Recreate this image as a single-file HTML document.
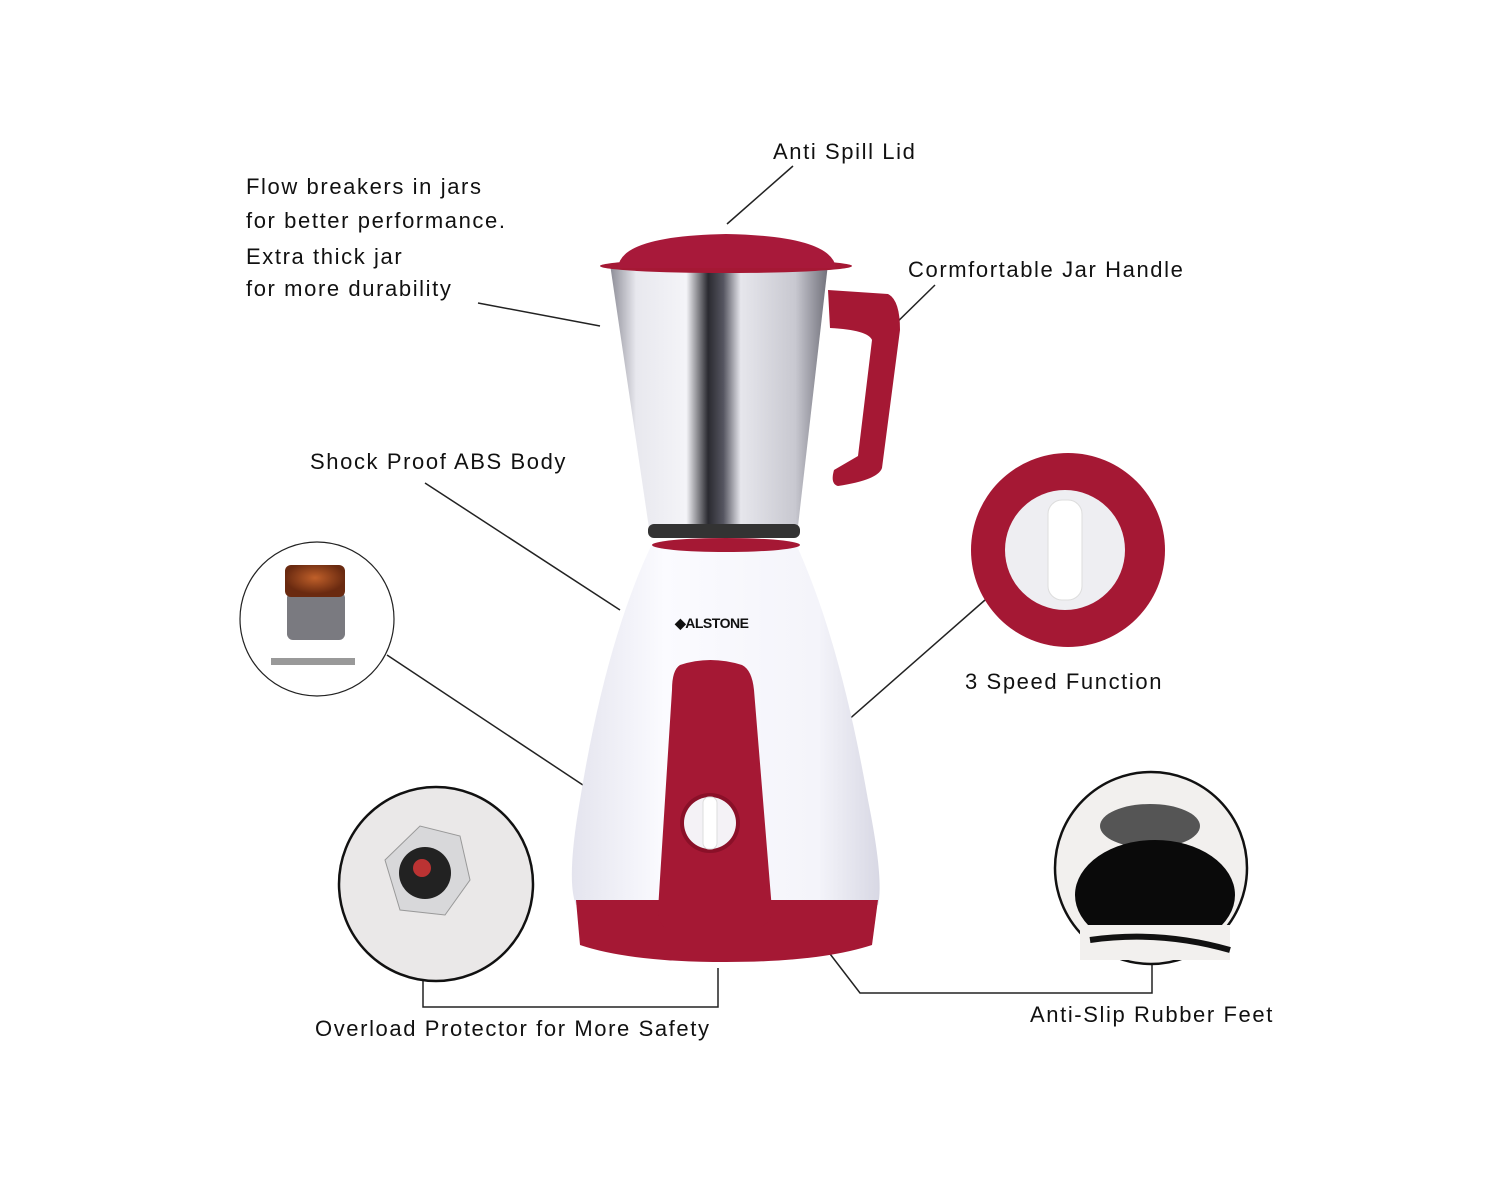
<!DOCTYPE html>
<html><head><meta charset="utf-8"><style>
html,body{margin:0;padding:0;background:#fff;}
svg{display:block}
text{font-family:"Liberation Sans",sans-serif;fill:#111;font-size:22px;letter-spacing:1.6px}
</style></head><body>
<svg width="1500" height="1200" viewBox="0 0 1500 1200">
<defs>
<linearGradient id="steel" x1="0" x2="1">
<stop offset="0" stop-color="#8c8c96"/><stop offset="0.12" stop-color="#e8e8ee"/><stop offset="0.35" stop-color="#f4f4f8"/>
<stop offset="0.45" stop-color="#2a2a30"/><stop offset="0.52" stop-color="#555560"/><stop offset="0.6" stop-color="#e6e6ec"/>
<stop offset="0.85" stop-color="#c8c8d0"/><stop offset="1" stop-color="#70707a"/></linearGradient>
<linearGradient id="body" x1="0" x2="1">
<stop offset="0" stop-color="#e4e4ee"/><stop offset="0.3" stop-color="#fbfbff"/><stop offset="0.8" stop-color="#f4f4fa"/><stop offset="1" stop-color="#d8d8e4"/></linearGradient>
<radialGradient id="mot" cx="0.5" cy="0.4" r="0.5"><stop offset="0" stop-color="#c0602a"/><stop offset="1" stop-color="#6a2a10"/></radialGradient>
</defs>
<g stroke="#222" stroke-width="1.5" fill="none">
<line x1="793" y1="166" x2="727" y2="224"/>
<line x1="478" y1="303" x2="600" y2="326"/>
<line x1="935" y1="285" x2="887" y2="332"/>
<line x1="425" y1="483" x2="620" y2="610"/>
<line x1="387" y1="655" x2="610" y2="803"/>
<line x1="985" y1="600" x2="740" y2="815"/>
<polyline points="423,978 423,1007 718,1007 718,968"/>
<polyline points="827,950 860,993 1152,993 1152,963"/>
</g>
<path d="M828,290 L888,294 Q900,300 900,330 L882,468 Q878,480 838,486 Q830,484 834,470 L858,456 L872,340 Q868,330 830,328 Z" fill="#a51834"/>
<path d="M610,264 L828,264 L797,535 L650,535 Z" fill="url(#steel)"/>
<rect x="648" y="524" width="152" height="14" rx="6" fill="#333"/>
<ellipse cx="726" cy="266" rx="126" ry="7" fill="#a51834"/>
<path d="M618,268 Q620,236 726,234 Q832,236 836,268 Z" fill="#a8193a"/>
<path d="M652,544 L796,544 Q840,640 868,800 Q884,880 878,905 L576,905 Q566,880 580,800 Q606,640 652,544 Z" fill="url(#body)"/>
<path d="M576,900 L878,900 L872,945 Q820,962 726,962 Q630,962 580,945 Z" fill="#a51834"/>
<ellipse cx="726" cy="545" rx="74" ry="7" fill="#a51834"/>
<path d="M680,665 Q710,655 742,665 Q752,670 754,690 L772,910 Q772,930 740,930 L675,930 Q658,930 658,910 L672,690 Q672,670 680,665 Z" fill="#a51834"/>
<ellipse cx="710" cy="823" rx="30" ry="30" fill="#8a1028"/>
<ellipse cx="710" cy="823" rx="26" ry="26" fill="#f4f2f6"/>
<rect x="703" y="797" width="14" height="52" rx="6" fill="#fff" stroke="#ddd"/>
<text x="675" y="628" style="font-size:14px;font-weight:bold;letter-spacing:-0.5px">◆ALSTONE</text>
<circle cx="317" cy="619" r="77" fill="#fff" stroke="#222" stroke-width="1.2"/>
<rect x="287" y="592" width="58" height="48" rx="6" fill="#7a7a80"/>
<rect x="285" y="565" width="60" height="32" rx="6" fill="url(#mot)"/>
<rect x="271" y="658" width="84" height="7" fill="#999"/>
<circle cx="1068" cy="550" r="97" fill="#a51834"/>
<circle cx="1065" cy="550" r="60" fill="#eeeef2"/>
<rect x="1048" y="500" width="34" height="100" rx="14" fill="#fff" stroke="#ddd"/>
<circle cx="436" cy="884" r="97" fill="#eae8e8" stroke="#111" stroke-width="2.5"/>
<polygon points="385,860 420,826 460,836 470,880 445,915 400,910" fill="#d8d8da" stroke="#999"/>
<circle cx="425" cy="873" r="26" fill="#222"/>
<circle cx="422" cy="868" r="9" fill="#b33"/>
<circle cx="1151" cy="868" r="96" fill="#f2f0ee" stroke="#111" stroke-width="2.5"/>
<ellipse cx="1150" cy="826" rx="50" ry="22" fill="#555"/>
<ellipse cx="1155" cy="895" rx="80" ry="55" fill="#0a0a0a"/>
<rect x="1080" y="925" width="150" height="35" fill="#f2f0ee"/>
<path d="M1090,940 Q1160,930 1230,950" stroke="#111" stroke-width="6" fill="none"/>
<text x="773" y="159">Anti Spill Lid</text>
<text x="246" y="194">Flow breakers in jars</text>
<text x="246" y="228">for better performance.</text>
<text x="246" y="264">Extra thick jar</text>
<text x="246" y="296">for more durability</text>
<text x="908" y="277">Cormfortable Jar Handle</text>
<text x="310" y="469">Shock Proof ABS Body</text>
<text x="965" y="689">3 Speed Function</text>
<text x="315" y="1036">Overload Protector for More Safety</text>
<text x="1030" y="1022">Anti-Slip Rubber Feet</text>
</svg>
</body></html>
